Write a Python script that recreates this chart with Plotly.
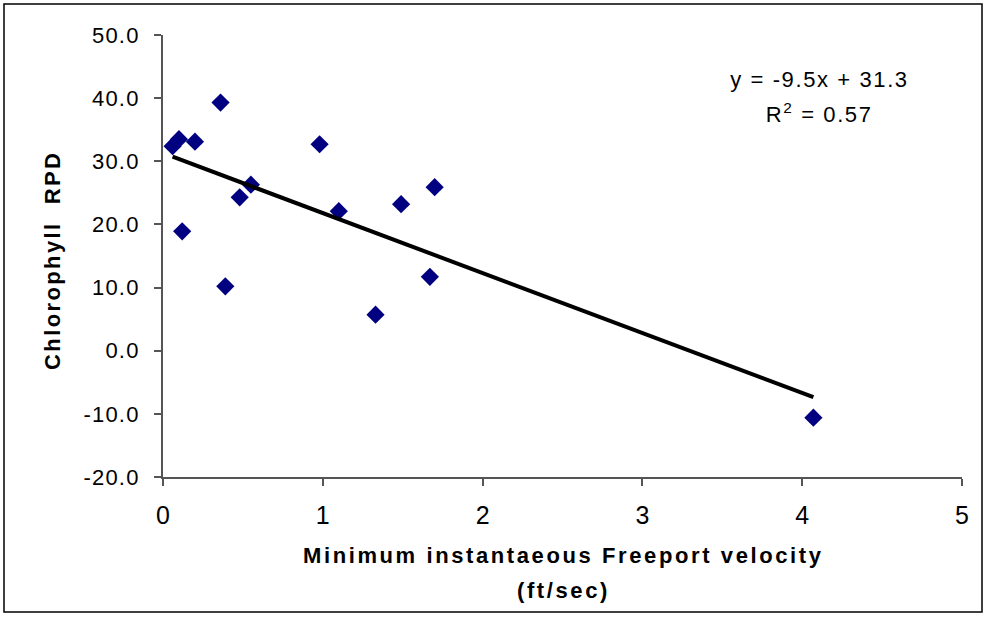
import plotly.graph_objects as go

velocity = [0.06, 0.10, 0.20, 0.36, 0.12, 0.39, 0.48, 0.55, 0.98, 1.10, 1.49, 1.70, 1.67, 1.33, 4.07]
chl_rpd = [32.4, 33.5, 33.1, 39.3, 18.9, 10.2, 24.3, 26.3, 32.7, 22.1, 23.2, 25.9, 11.7, 5.7, -10.6]
slope = -9.5
intercept = 31.3
r2 = 0.57
y_ticks = [-20, -10, 0, 10, 20, 30, 40, 50]
x_ticks = [0, 1, 2, 3, 4, 5]
x_title_lines = ["Minimum instantaeous Freeport velocity", "(ft/sec)"]
y_title = "Chlorophyll  RPD"

W, H = 986, 618
ML, MR, MT, MB = 163, 24, 35, 141
pw = W - ML - MR
ph = H - MT - MB


def px_x(x):
    return (x - ML) / pw


def px_y(y):
    return (H - MB - y) / ph


xmin, xmax = min(velocity), max(velocity)
fit_x = [xmin, xmax]
fit_y = [slope * v + intercept for v in fit_x]

font_family = "Liberation Sans, Arial, sans-serif"

fig = go.Figure()
fig.add_trace(go.Scatter(
    x=velocity, y=chl_rpd, mode="markers",
    marker=dict(symbol="diamond", size=14, color="#000080", line=dict(width=0)),
    showlegend=False, hoverinfo="x+y"))
fig.add_trace(go.Scatter(
    x=fit_x, y=fit_y, mode="lines",
    line=dict(color="black", width=4),
    showlegend=False, hoverinfo="skip"))

fig.add_shape(type="rect", xref="paper", yref="paper",
              x0=px_x(4), x1=px_x(982), y0=px_y(612), y1=px_y(4),
              line=dict(color="black", width=1.5), fillcolor="rgba(0,0,0,0)", layer="below")

fig.add_annotation(xref="paper", yref="paper", x=px_x(819), y=px_y(79),
                   text=f"y = {slope}x + {intercept}", showarrow=False,
                   font=dict(family=font_family, size=22, color="black"),
                   xanchor="center", yanchor="middle")
fig.add_annotation(xref="paper", yref="paper", x=px_x(819), y=px_y(113),
                   text=f"R<sup>2</sup> = {r2}", showarrow=False,
                   font=dict(family=font_family, size=22, color="black"),
                   xanchor="center", yanchor="middle")
for line_text, ypix in zip(x_title_lines, [555, 590]):
    fig.add_annotation(xref="paper", yref="paper", x=px_x(563), y=px_y(ypix),
                       text=f"<b><span style='letter-spacing:2.6px'>{line_text}</span></b>",
                       showarrow=False,
                       font=dict(family=font_family, size=22, color="black"),
                       xanchor="center", yanchor="middle")
fig.add_annotation(xref="paper", yref="paper", x=px_x(52), y=px_y(261),
                   text=f"<b><span style='letter-spacing:2.4px'>{y_title}</span></b>",
                   showarrow=False, textangle=-90,
                   font=dict(family=font_family, size=22, color="black"),
                   xanchor="center", yanchor="middle")

fig.update_layout(
    width=W, height=H,
    margin=dict(l=ML, r=MR, t=MT, b=MB),
    paper_bgcolor="white", plot_bgcolor="white",
    font=dict(family=font_family, color="black"),
    xaxis=dict(range=[0, 5], tickvals=x_ticks, ticktext=[str(t) for t in x_ticks],
               showgrid=False, zeroline=False, showline=True, linecolor="#555555", linewidth=2,
               ticks="outside", ticklen=7, tickcolor="#555555", tickwidth=1.5,
               ticklabelstandoff=8, tickfont=dict(size=25)),
    yaxis=dict(range=[-20, 50], tickvals=y_ticks, ticktext=[f"{t:.1f}" for t in y_ticks],
               showgrid=False, zeroline=False, showline=True, linecolor="#555555", linewidth=2,
               ticks="outside", ticklen=7, tickcolor="#555555", tickwidth=1.5,
               ticklabelstandoff=10, tickfont=dict(size=22)),
)

post = """
document.body.style.margin = '0';
var st = document.createElement('style');
st.textContent = '.annotation-text{letter-spacing:1.6px;} .ytick text{letter-spacing:1.2px;}';
document.head.appendChild(st);
"""

fig.write_html("out.html", post_script=post, config={"displayModeBar": False})
